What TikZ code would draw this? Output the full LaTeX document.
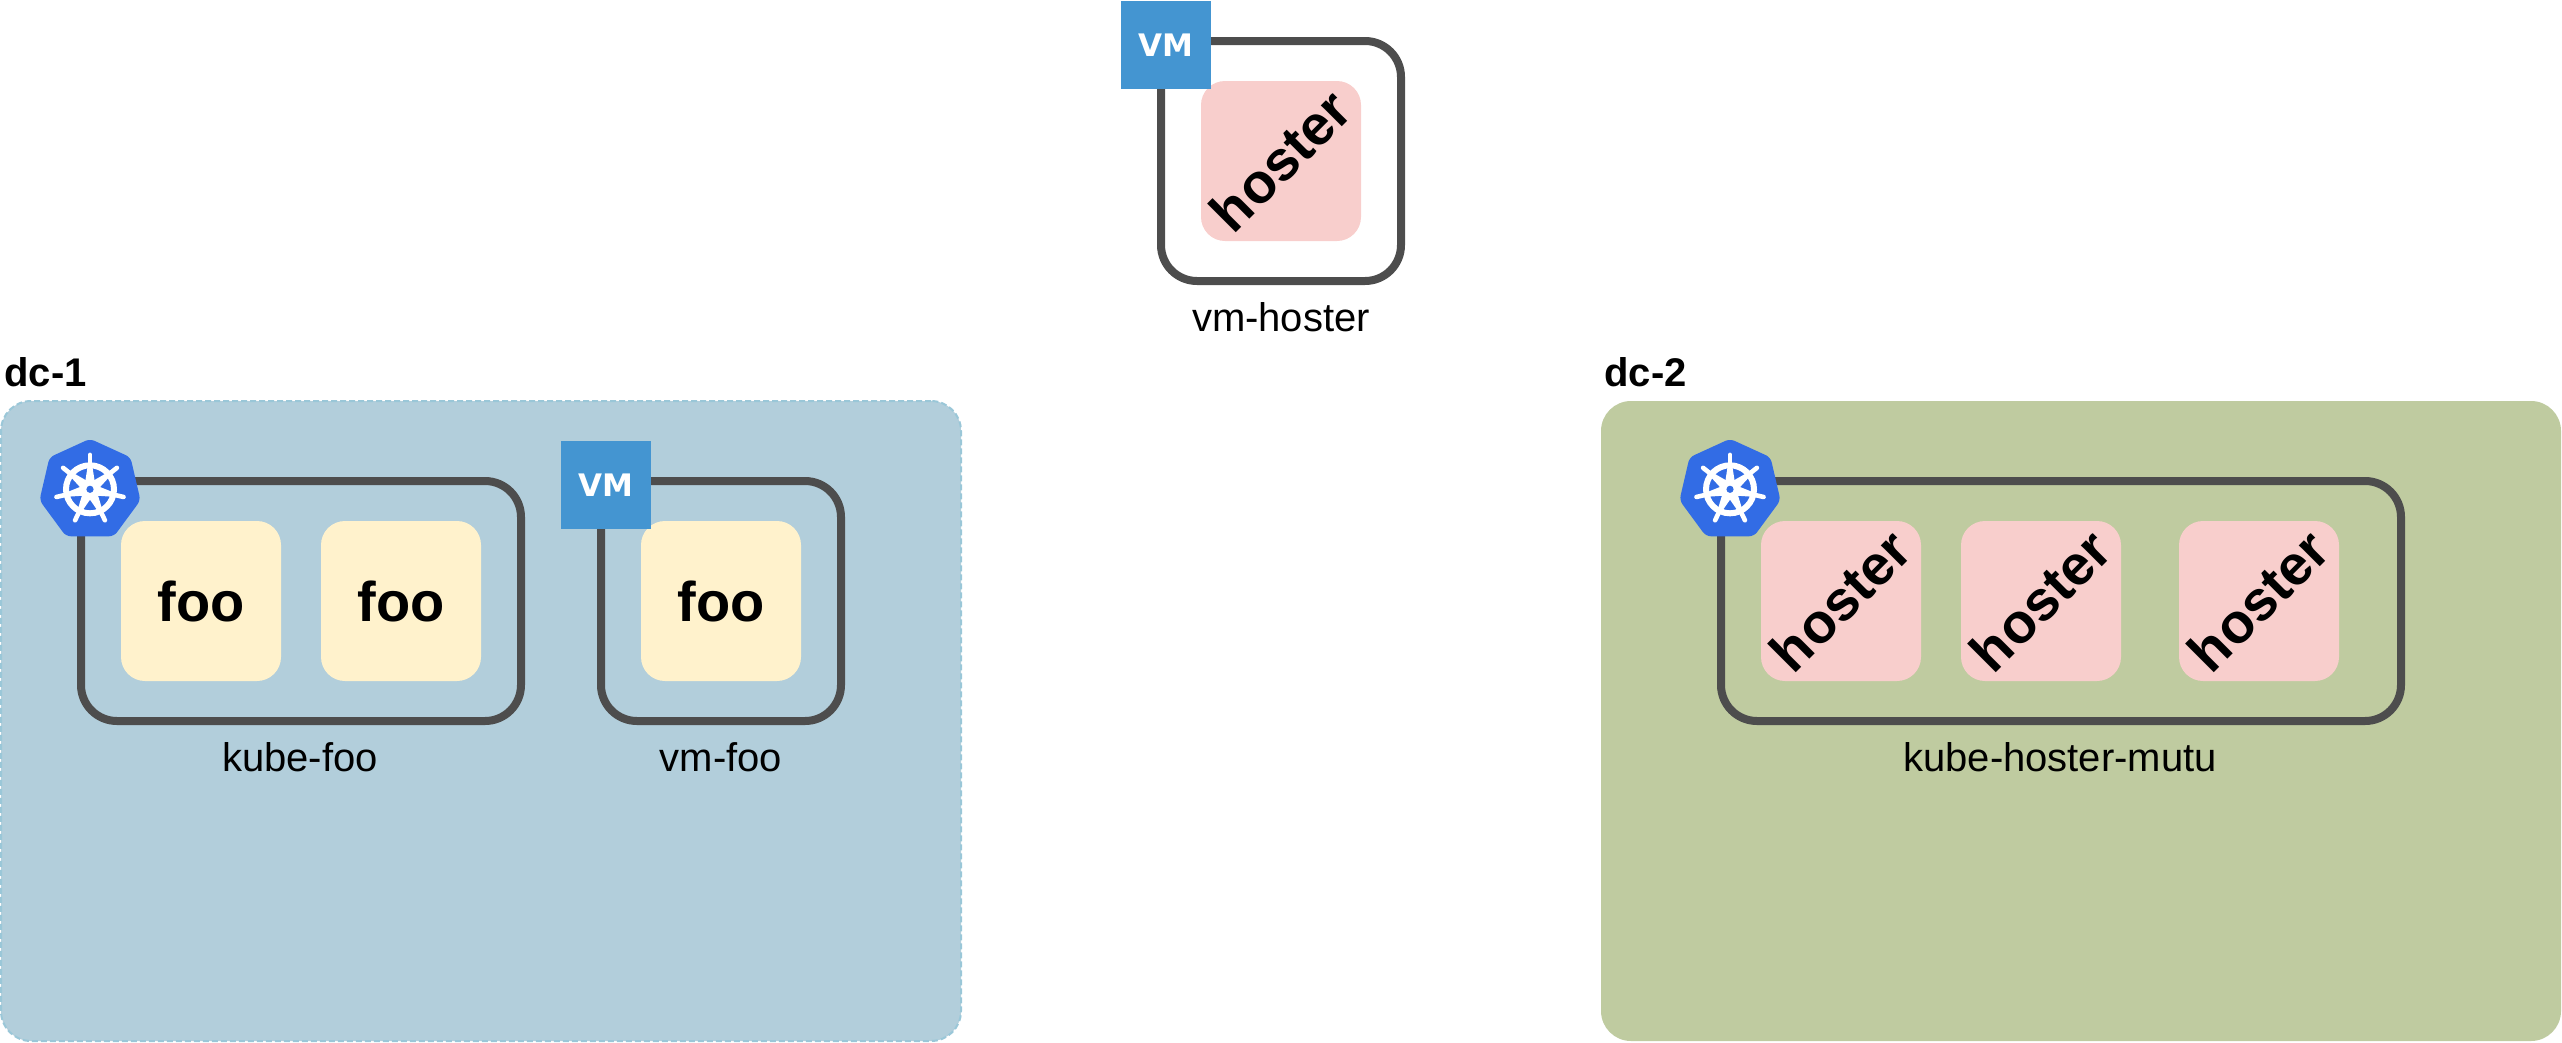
\documentclass[tikz,border=0pt]{standalone}
\usepackage{fontspec}
\setmainfont{Liberation Sans}
\newfontfamily\vmfont{DejaVu Sans}
\definecolor{dcone}{HTML}{B2CEDB}
\definecolor{dconeline}{HTML}{9AC7D8}
\definecolor{dctwo}{HTML}{BFCBA0}
\definecolor{hostpod}{HTML}{F8CECC}
\definecolor{foopod}{HTML}{FFF2CC}
\definecolor{boxline}{HTML}{4D4D4D}
\definecolor{vmblue}{HTML}{4495D1}
\definecolor{kubeblue}{HTML}{326CE5}
\tikzset{
  dcarea/.style={rectangle,inner sep=0,outer sep=0,minimum width=960,minimum height=640,rounded corners=30},
  hostbox/.style={rectangle,draw=boxline,line width=8,inner sep=0,outer sep=0,minimum height=240,rounded corners=36},
  podbox/.style={rectangle,inner sep=0,outer sep=0,minimum width=160,minimum height=160,rounded corners=24,text=black},
  foobox/.style={podbox,fill=foopod,font=\fontsize{56}{60}\selectfont\bfseries},
  hosterbox/.style={podbox,fill=hostpod},
  hostertext/.style={inner sep=0,outer sep=0,rotate=45,font=\fontsize{56}{60}\selectfont\bfseries,text=black},
  vmicon/.style={rectangle,fill=vmblue,text=white,inner sep=0,outer sep=0,minimum width=90,minimum height=88,font=\vmfont\fontsize{31}{36}\selectfont\bfseries},
  boxlabel/.style={anchor=base,inner sep=0,outer sep=0,font=\fontsize{40}{48}\selectfont,text=black},
  dclabel/.style={anchor=base west,inner sep=0,outer sep=0,font=\fontsize{40}{48}\selectfont\bfseries,text=black},
  kube/.pic={
    \fill[kubeblue,rounded corners=5] (0,-50.5) -- (40.5,-32) -- (50.5,11) -- (24,47) -- (-24,47) -- (-50.5,11) -- (-40.5,-32) -- cycle;
    \draw[white,line width=6] (0,0) circle[radius=24];
    \foreach \a in {90,38.57,-12.86,-64.29,-115.71,-167.14,141.43}{
      \begin{scope}[rotate=\a]
        \draw[white,line width=4.6,line cap=round] (0,0) -- (34.4,0);
        \fill[white] (3,-5.5) -- (22,-2.5) -- (22,2.5) -- (3,5.5) -- cycle;
      \end{scope}
    }
    \fill[white] (0,0) circle[radius=7.5];
    \fill[kubeblue] (0,0) circle[radius=3.6];
  }
}
\begin{document}
\begin{tikzpicture}[x=1pt,y=-1pt]
\useasboundingbox (0,0) rectangle (2562,1042);
% data centres
\node[dcarea,fill=dcone,draw=dconeline,line width=2,dash pattern=on 6 off 3] (dcone) at (481,721) {};
\node[dcarea,fill=dctwo] (dctwo) at (2081,721) {};
\node[dclabel] (dconelabel) at (4.5,386) {dc-1};
\node[dclabel] (dctwolabel) at (1604.5,386) {dc-2};
% vm-hoster
\node[hostbox,minimum width=240] (vmhoster) at (1281,161) {};
\node[hosterbox] (podtop) at (1281,161) {};
\node[hostertext] (podtoptext) at (1280.3,160.5) {hoster};
\node[vmicon] (vmtop) at (1166,45) {\raisebox{-0.8pt}{VM}};
\node[boxlabel] (vmhosterlabel) at (1281,331) {vm-hoster};
% kube-foo
\node[hostbox,minimum width=440] (kubefoo) at (301,601) {};
\node[foobox] (fooa) at (201,601) {foo};
\node[foobox] (foob) at (401,601) {foo};
\pic at (90,489.3) {kube};
\node[boxlabel] (kubefoolabel) at (300,771) {kube-foo};
% vm-foo
\node[hostbox,minimum width=240] (vmfoo) at (721,601) {};
\node[foobox] (fooc) at (721,601) {foo};
\node[vmicon] (vmfooicon) at (606,485) {\raisebox{-0.8pt}{VM}};
\node[boxlabel] (vmfoolabel) at (721,771) {vm-foo};
% kube-hoster-mutu
\node[hostbox,minimum width=680] (kubehoster) at (2061,601) {};
\node[hosterbox] (poda) at (1841,601) {};
\node[hostertext] (podatext) at (1840.3,600.5) {hoster};
\node[hosterbox] (podb) at (2041,601) {};
\node[hostertext] (podbtext) at (2040.3,600.5) {hoster};
\node[hosterbox] (podc) at (2259,601) {};
\node[hostertext] (podctext) at (2258.3,600.5) {hoster};
\pic at (1730,489.3) {kube};
\node[boxlabel] (kubehosterlabel) at (2060,771) {kube-hoster-mutu};
\end{tikzpicture}
\end{document}
